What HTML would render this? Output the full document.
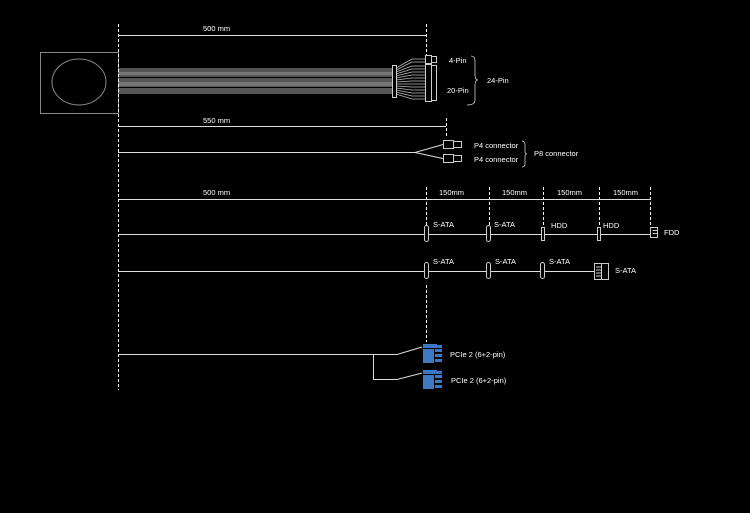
<!DOCTYPE html>
<html><head><style>body{margin:0;background:#000}svg{display:block}text{font-family:"Liberation Sans",sans-serif;font-size:7.5px;fill:#fff}</style></head><body>
<svg width="750" height="513" viewBox="0 0 750 513" xmlns="http://www.w3.org/2000/svg">
<rect width="750" height="513" fill="#000"/>
<g fill="none" stroke="#888" stroke-width="1">
<rect x="40.5" y="52.5" width="78" height="61"/>
<ellipse cx="79" cy="82" rx="27" ry="23"/>
</g>
<g stroke="#fff" stroke-width="1" stroke-dasharray="3,2" fill="none">
<line x1="118.5" y1="24" x2="118.5" y2="390"/>
<line x1="426.5" y1="24" x2="426.5" y2="56"/>
<line x1="446.5" y1="118" x2="446.5" y2="136"/>
<line x1="426.5" y1="187" x2="426.5" y2="225"/>
<line x1="489.5" y1="187" x2="489.5" y2="225"/>
<line x1="543.5" y1="187" x2="543.5" y2="225"/>
<line x1="599.5" y1="187" x2="599.5" y2="225"/>
<line x1="650.5" y1="187" x2="650.5" y2="225"/>
<line x1="426.5" y1="285" x2="426.5" y2="342"/>
</g>
<g stroke="#ddd" stroke-width="1" fill="none">
<line x1="118" y1="35.5" x2="426" y2="35.5"/>
<line x1="118" y1="126.5" x2="446" y2="126.5"/>
<line x1="118" y1="199.5" x2="650" y2="199.5"/>
<path d="M118 152.5H415L443 144.5M415 152.5L443 158.5"/>
<line x1="118" y1="234.5" x2="650" y2="234.5"/>
<line x1="118" y1="271.5" x2="594" y2="271.5"/>
<path d="M118 354.5H397L422 347M373.5 354.5V379.5H397L422 373"/>
</g>
<!-- bundle -->
<g stroke="#aaa" stroke-width="1">
<line x1="119" y1="69" x2="393" y2="69"/>
<line x1="119" y1="71" x2="393" y2="71"/>
<line x1="119" y1="74" x2="393" y2="74"/>
<line x1="119" y1="76" x2="393" y2="76"/>
<line x1="119" y1="79" x2="393" y2="79"/>
<line x1="119" y1="81" x2="393" y2="81"/>
<line x1="119" y1="84" x2="393" y2="84"/>
<line x1="119" y1="86" x2="393" y2="86"/>
<line x1="119" y1="89" x2="393" y2="89"/>
<line x1="119" y1="91" x2="393" y2="91"/>
<line x1="119" y1="93" x2="393" y2="93"/>
</g>
<rect x="119" y="72" width="274" height="3" fill="#777"/>
<rect x="119" y="82" width="274" height="4" fill="#777"/>
<g stroke="#bbb" stroke-width="0.8" fill="none">
<path d="M396 68L412 59H425M396 70L412 62H425M396 72L412 66H425M396 74L412 69H425M396 76L412 72H425M396 78L412 75H425M396 80L412 78H425M396 82L412 81H425M396 84L412 84H425M396 86L412 87H425M396 88L412 90H425M396 90L412 93H425M396 92L412 96H425M396 94L412 99H425"/>
</g>
<g fill="#000" stroke="#ccc" stroke-width="1">
<rect x="392.5" y="65.5" width="4" height="32"/>
<rect x="425.5" y="55.5" width="6" height="8"/>
<rect x="431.5" y="56.5" width="5" height="6"/>
<rect x="425.5" y="64.5" width="6" height="37"/>
<rect x="431.5" y="65.5" width="5" height="35"/>
<rect x="443.5" y="140.5" width="10" height="8"/>
<rect x="453.5" y="141.5" width="8" height="6"/>
<rect x="443.5" y="154.5" width="10" height="8"/>
<rect x="453.5" y="155.5" width="8" height="6"/>
</g>
<g fill="none" stroke="#ccc" stroke-width="0.8">
<path d="M471 56q4 0 4 5v14q0 5 3 5q-3 0 -3 5v15q0 5 -8 5"/>
<path d="M522 141q3 0 3 4v6q0 3 2 3q-2 0 -2 3v7q0 3 -3 3"/>
</g>
<!-- sata pills -->
<g fill="#000" stroke="#ccc" stroke-width="1">
<rect x="424.5" y="225.5" width="4" height="16" rx="2"/>
<rect x="486.5" y="225.5" width="4" height="16" rx="2"/>
<rect x="541.5" y="227.5" width="3" height="13"/>
<rect x="597.5" y="227.5" width="3" height="13"/>
<path d="M650.5 227.5h7v10h-7zM652.5 230.5h5M652.5 233.5h5"/>
<rect x="424.5" y="262.5" width="4" height="16" rx="2"/>
<rect x="486.5" y="262.5" width="4" height="16" rx="2"/>
<rect x="540.5" y="262.5" width="4" height="16" rx="2"/>
<rect x="594.5" y="263.5" width="14" height="16"/>
<path d="M601.5 263.5v16M596 267h5M596 270h5M596 273h5M596 276h5"/>
</g>
<!-- pcie -->
<g fill="#3d78c4">
<rect x="423" y="344" width="14" height="4"/><rect x="423" y="349" width="11" height="14"/>
<rect x="435" y="349" width="7" height="3"/><rect x="435" y="354" width="7" height="3"/><rect x="435" y="359" width="7" height="3"/><rect x="437" y="345" width="5" height="3"/>
<rect x="423" y="370" width="14" height="4"/><rect x="423" y="375" width="11" height="14"/>
<rect x="435" y="375" width="7" height="3"/><rect x="435" y="380" width="7" height="3"/><rect x="435" y="385" width="7" height="3"/><rect x="437" y="371" width="5" height="3"/>
</g>
<text x="203" y="31">500 mm</text>
<text x="203" y="123">550 mm</text>
<text x="203" y="195">500 mm</text>
<text x="449" y="63">4-Pin</text>
<text x="447" y="93">20-Pin</text>
<text x="487" y="83">24-Pin</text>
<text x="474" y="148">P4 connector</text>
<text x="474" y="162">P4 connector</text>
<text x="534" y="156">P8 connector</text>
<text x="439" y="195">150mm</text>
<text x="502" y="195">150mm</text>
<text x="557" y="195">150mm</text>
<text x="613" y="195">150mm</text>
<text x="433" y="227">S-ATA</text>
<text x="494" y="227">S-ATA</text>
<text x="551" y="228">HDD</text>
<text x="603" y="228">HDD</text>
<text x="664" y="235">FDD</text>
<text x="433" y="264">S-ATA</text>
<text x="495" y="264">S-ATA</text>
<text x="549" y="264">S-ATA</text>
<text x="615" y="273">S-ATA</text>
<text x="450" y="357">PCIe 2 (6+2-pin)</text>
<text x="451" y="383">PCIe 2 (6+2-pin)</text>
</svg>
</body></html>
